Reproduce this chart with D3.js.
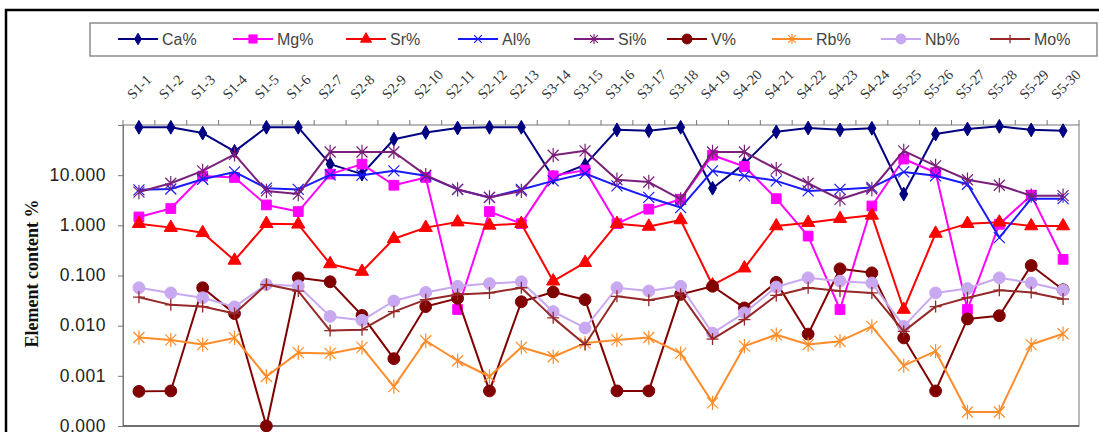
<!DOCTYPE html>
<html>
<head>
<meta charset="utf-8">
<script src="https://cdn.jsdelivr.net/npm/d3@7"></script>
<style>
  html, body { margin: 0; padding: 0; background: #fff; }
  svg { display: block; }
</style>
</head>
<body>
<svg id="chart" width="1099" height="432"></svg>
<script>
// sample codes along the profile
var categories = ["S1-1", "S1-2", "S1-3", "S1-4", "S1-5", "S1-6", "S2-7", "S2-8", "S2-9", "S2-10",
  "S2-11", "S2-12", "S2-13", "S3-14", "S3-15", "S3-16", "S3-17", "S3-18", "S4-19", "S4-20",
  "S4-21", "S4-22", "S4-23", "S4-24", "S5-25", "S5-26", "S5-27", "S5-28", "S5-29", "S5-30"];

var ca = [90, 90, 69, 29.8, 90, 90, 16.6, 10.5, 52, 71, 87, 90, 90, 9, 16, 80, 77, 90, 5.5, 17, 73, 87, 80, 86, 4.2, 66, 83, 94, 80, 77];
var mg = [1.47, 2.16, 9.6, 9.0, 2.55, 1.88, 10.5, 16.6, 6.3, 9.0, 0.021, 1.88, 1.08, 9.7, 12.6, 1.08, 2.1, 3.3, 25, 14.9, 3.4, 0.61, 0.021, 2.43, 21, 11.3, 0.021, 1.05, 4.0, 0.21];
var sr = [1.08, 0.9, 0.71, 0.2, 1.08, 1.05, 0.17, 0.12, 0.54, 0.9, 1.16, 1.0, 1.08, 0.077, 0.18, 1.08, 0.95, 1.28, 0.064, 0.14, 0.97, 1.13, 1.36, 1.58, 0.021, 0.69, 1.08, 1.15, 0.97, 0.97];
var al = [5.1, 5.3, 8.3, 11.6, 5.5, 5.2, 10.1, 10, 12.2, 9.7, 5.2, 3.6, 5.2, 7.7, 10.8, 6.1, 3.6, 2.26, 12.2, 9.7, 7.7, 4.85, 5.2, 5.7, 11.6, 9.7, 6.6, 0.57, 3.4, 3.4];
var si = [4.6, 6.9, 12.2, 26, 4.85, 4.2, 29, 29, 29, 10, 5.2, 3.6, 4.85, 25, 30.6, 8.1, 7.3, 3.3, 29, 29, 13.2, 6.9, 3.3, 5.3, 30.6, 15.3, 8.1, 6.3, 3.9, 3.9];
var v = [0.00049, 0.0005, 0.057, 0.0174, 0.0001, 0.09, 0.075, 0.016, 0.0022, 0.024, 0.035, 0.0005, 0.03, 0.047, 0.033, 0.0005, 0.0005, 0.042, 0.061, 0.0226, 0.073, 0.0068, 0.136, 0.113, 0.0057, 0.0005, 0.0136, 0.0158, 0.158, 0.052];
var rb = [0.0058, 0.0052, 0.0042, 0.0057, 0.00097, 0.0029, 0.0028, 0.0037, 0.00061, 0.005, 0.002, 0.00097, 0.0037, 0.0024, 0.0045, 0.0052, 0.0058, 0.0028, 0.00029, 0.0039, 0.0066, 0.0042, 0.0049, 0.0097, 0.0016, 0.0031, 0.00019, 0.00019, 0.0042, 0.0069];
var nb = [0.057, 0.045, 0.036, 0.0237, 0.066, 0.062, 0.0153, 0.0128, 0.031, 0.046, 0.061, 0.069, 0.075, 0.019, 0.009, 0.057, 0.049, 0.061, 0.0071, 0.018, 0.059, 0.09, 0.077, 0.071, 0.0097, 0.045, 0.055, 0.09, 0.071, 0.051];
var mo = [0.037, 0.026, 0.024, 0.0174, 0.066, 0.049, 0.008, 0.0083, 0.019, 0.033, 0.042, 0.045, 0.057, 0.0143, 0.0042, 0.0385, 0.032, 0.042, 0.0054, 0.0132, 0.04, 0.057, 0.049, 0.045, 0.0077, 0.024, 0.036, 0.051, 0.046, 0.034];

var yTicks = [0.0001, 0.001, 0.01, 0.1, 1, 10];

var series = [
  { name: "Ca%", values: ca, color: "#000080", marker: "diamond" },
  { name: "Mg%", values: mg, color: "#ff00ff", marker: "square" },
  { name: "Sr%", values: sr, color: "#ff0000", marker: "triangle" },
  { name: "Al%", values: al, color: "#1a1aff", marker: "x" },
  { name: "Si%", values: si, color: "#7a1f7a", marker: "star" },
  { name: "V%", values: v, color: "#800000", marker: "circle" },
  { name: "Rb%", values: rb, color: "#ff8c2a", marker: "star" },
  { name: "Nb%", values: nb, color: "#c8a8f0", marker: "circle" },
  { name: "Mo%", values: mo, color: "#962828", marker: "plus" }
];

var svg = d3.select("#chart");
var plotL = 123, plotR = 1079, plotT = 125, plotB = 426;

var x = d3.scaleBand().domain(categories).range([plotL, plotR]).padding(0);
var y = d3.scaleLog().domain([0.0001, 100]).range([plotB, plotT]);

// outer frame
svg.append("rect").attr("x", 6).attr("y", 10).attr("width", 1110).attr("height", 440)
  .attr("fill", "#fff").attr("stroke", "#000").attr("stroke-width", 2.5);

// plot area frame
svg.append("rect").attr("x", plotL).attr("y", plotT).attr("width", plotR - plotL).attr("height", plotB - plotT)
  .attr("fill", "none").attr("stroke", "#8c8c8c").attr("stroke-width", 1.2);
svg.append("line").attr("x1", plotL).attr("x2", plotR).attr("y1", plotB).attr("y2", plotB)
  .attr("stroke", "#555").attr("stroke-width", 1.5);

// y axis
var yAxis = d3.axisLeft(y).tickValues(yTicks).tickFormat(d3.format(".3f")).tickSize(5).tickPadding(12);
var gy = svg.append("g").attr("transform", "translate(" + plotL + ",0)").call(yAxis);
gy.select(".domain").attr("stroke", "#777");
gy.selectAll(".tick line").attr("stroke", "#777");
gy.selectAll(".tick text").attr("fill", "#222").style("font-family", "'Liberation Sans', Arial, sans-serif")
  .style("font-size", "17.5px").style("letter-spacing", "0.5px").attr("dy", "0.3em");

svg.append("text")
  .attr("transform", "translate(38," + ((plotT + plotB) / 2 - 2) + ") rotate(-90)")
  .attr("text-anchor", "middle")
  .style("font-family", "'Liberation Serif', 'Times New Roman', serif")
  .style("font-weight", "bold").style("font-size", "18px").attr("fill", "#111")
  .text("Element content %");

// category axis on top: ticks at band edges
var edges = categories.map(function (c) { return x(c); }).concat([x.range()[1]]);
svg.selectAll(".xtick").data(edges).enter().append("line")
  .attr("x1", function (d) { return d; }).attr("x2", function (d) { return d; })
  .attr("y1", plotT).attr("y2", plotT - 5).attr("stroke", "#777");

svg.selectAll(".xlab").data(categories).enter().append("text")
  .attr("transform", function (d) { return "translate(" + (x(d) + x.bandwidth() / 2 - 6) + ",100) rotate(-45)"; })
  .style("font-family", "'Liberation Serif', 'Times New Roman', serif")
  .style("font-size", "14.5px").attr("fill", "#333")
  .text(function (d) { return d; });

// marker drawing
function drawMarker(g, type, color, size) {
  var s = size || 1;
  if (type === "diamond") {
    g.append("path").attr("d", d3.symbol().type(d3.symbolDiamond).size(55 * s)())
      .attr("fill", color).attr("stroke", color);
  } else if (type === "square") {
    g.append("path").attr("d", d3.symbol().type(d3.symbolSquare).size(95 * s)())
      .attr("fill", color).attr("stroke", color);
  } else if (type === "triangle") {
    g.append("path").attr("d", d3.symbol().type(d3.symbolTriangle).size(75 * s)())
      .attr("fill", color).attr("stroke", color);
  } else if (type === "circle") {
    g.append("path").attr("d", d3.symbol().type(d3.symbolCircle).size(110 * s)())
      .attr("fill", color).attr("stroke", color);
  } else if (type === "x") {
    var r = 5.5 * s;
    g.append("path").attr("d", "M" + -r + "," + -r + "L" + r + "," + r + "M" + -r + "," + r + "L" + r + "," + -r)
      .attr("stroke", color).attr("stroke-width", 1.2).attr("fill", "none");
  } else if (type === "star") {
    var q = 5.5 * s;
    g.append("path").attr("d", "M" + -q + "," + -q + "L" + q + "," + q + "M" + -q + "," + q + "L" + q + "," + -q + "M0," + -q * 1.3 + "L0," + q * 1.3)
      .attr("stroke", color).attr("stroke-width", 1.2).attr("fill", "none");
  } else if (type === "plus") {
    var p = 6 * s;
    g.append("path").attr("d", "M" + -p + ",0L" + p + ",0M0," + -p + "L0," + p)
      .attr("stroke", color).attr("stroke-width", 1.3).attr("fill", "none");
  }
}

var line = d3.line()
  .x(function (d, i) { return x(categories[i]) + x.bandwidth() / 2; })
  .y(function (d) { return y(d); });

series.forEach(function (s) {
  var g = svg.append("g");
  g.append("path").datum(s.values).attr("d", line)
    .attr("fill", "none").attr("stroke", s.color).attr("stroke-width", 2).attr("stroke-linejoin", "round");
  s.values.forEach(function (val, i) {
    var m = g.append("g").attr("transform", "translate(" + (x(categories[i]) + x.bandwidth() / 2) + "," + y(val) + ")");
    drawMarker(m, s.marker, s.color);
  });
});

// legend
var legendX = [118, 233, 346, 458, 574, 667, 772, 881, 990];
svg.append("rect").attr("x", 90).attr("y", 23).attr("width", 1007).attr("height", 33)
  .attr("fill", "#fff").attr("stroke", "#8c8c8c").attr("stroke-width", 1.5);
series.forEach(function (s, i) {
  var g = svg.append("g").attr("transform", "translate(" + legendX[i] + ",39)");
  g.append("line").attr("x1", 0).attr("x2", 40).attr("y1", 0).attr("y2", 0)
    .attr("stroke", s.color).attr("stroke-width", 2);
  var m = g.append("g").attr("transform", "translate(20,0)");
  drawMarker(m, s.marker, s.color, 0.7);
  g.append("text").attr("x", 44).attr("y", 6)
    .style("font-family", "'Liberation Sans', Arial, sans-serif").style("font-size", "16px")
    .attr("fill", "#444").text(s.name);
});
</script>
</body>
</html>
